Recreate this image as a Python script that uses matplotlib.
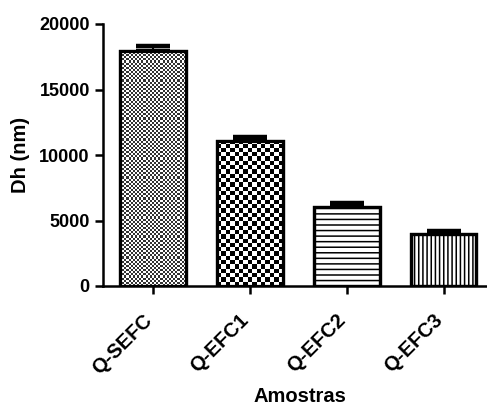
import numpy as np
import matplotlib
matplotlib.use("Agg")
import matplotlib.pyplot as plt
from matplotlib.transforms import ScaledTranslation

plt.rcParams['font.family'] = ['Liberation Sans', 'DejaVu Sans']
plt.rcParams['font.weight'] = 'bold'
plt.rcParams['hatch.linewidth'] = 1.1

# Hydrodynamic diameter per sample
samples = ["Q-SEFC", "Q-EFC1", "Q-EFC2", "Q-EFC3"]
dh_nm = [17950, 11100, 6050, 3950]
dh_err = [380, 250, 260, 260]
y_ticks = [0, 5000, 10000, 15000, 20000]

W, H, DPI = 487, 405, 100
fig = plt.figure(figsize=(W / DPI, H / DPI), dpi=DPI)
ax = fig.add_axes([103 / W, 1 - 286 / H, (W - 103) / W + 0.02, (286 - 24) / H])

x = np.arange(len(samples))
bar_w = 0.68
bars = ax.bar(x, dh_nm, width=bar_w, color="white", edgecolor="black",
              linewidth=2.3, zorder=2)
ax.errorbar(x, dh_nm, yerr=[np.zeros(len(dh_err)), dh_err], fmt="none",
            ecolor="black", elinewidth=1.5, capsize=12, capthick=3.2, zorder=1)

ax.set_xlim(-0.52, 3.55)
ax.set_ylim(0, 20000)
ax.set_yticks(y_ticks)
ax.set_xticks(x)
ax.set_xticklabels(samples, rotation=45, ha="right", va="center",
                   rotation_mode="anchor", fontsize=14.5, fontweight="bold")
ax.tick_params(axis="y", labelsize=13, width=1.8, length=6, direction="out")
ax.tick_params(axis="x", width=1.8, length=6, direction="out", pad=13)
for lab in ax.get_yticklabels():
    lab.set_fontweight("bold")
# nudge the slanted sample names a little lower and left
shift = ScaledTranslation(-4 / DPI, -5 / DPI, fig.dpi_scale_trans)
for lab in ax.get_xticklabels():
    lab.set_transform(lab.get_transform() + shift)

for s in ("top", "right"):
    ax.spines[s].set_visible(False)
for s in ("left", "bottom"):
    ax.spines[s].set_linewidth(1.8)

ax.set_ylabel("Dh (nm)", fontsize=14.5, fontweight="bold")
ax.yaxis.set_label_coords((32 - 103) / (W - 103), 0.5)
ax.set_xlabel("Amostras", fontsize=14.5, fontweight="bold")
ax.xaxis.set_label_coords(0.5, (286 - 387) / (286 - 24))

# Fill patterns: checkerboards drawn as clipped images, line hatches for the rest
fig.canvas.draw()
px_per_x = ax.transData.transform((1, 0))[0] - ax.transData.transform((0, 0))[0]
px_per_y = ax.transData.transform((0, 1))[1] - ax.transData.transform((0, 0))[1]


def checker(bar, cell_px, dark):
    x0 = bar.get_x()
    w = bar.get_width()
    h = bar.get_height()
    nx = max(1, int(round(w * px_per_x / cell_px)))
    ny = max(1, int(round(h * px_per_y / cell_px)))
    yy, xx = np.mgrid[0:ny, 0:nx]
    img = ((xx + yy) % 2).astype(float)
    im = ax.imshow(img, cmap=matplotlib.colors.ListedColormap([dark, "white"]),
                   extent=(x0, x0 + w, 0, ny * cell_px / px_per_y),
                   interpolation="nearest", aspect="auto", zorder=2.1,
                   origin="lower")
    im.set_clip_path(bar)


checker(bars[0], 2.1, "#333333")
checker(bars[1], 4.3, "black")
bars[2].set_hatch("---")
bars[3].set_hatch("||||")

# outline redrawn above the fills
for b in bars:
    ax.bar(b.get_x() + b.get_width() / 2, b.get_height(), width=b.get_width(),
           fill=False, edgecolor="black", linewidth=2.3, zorder=3)

ax.set_xlim(-0.52, 3.55)
ax.set_ylim(0, 20000)

fig.savefig("out.png", dpi=DPI)
